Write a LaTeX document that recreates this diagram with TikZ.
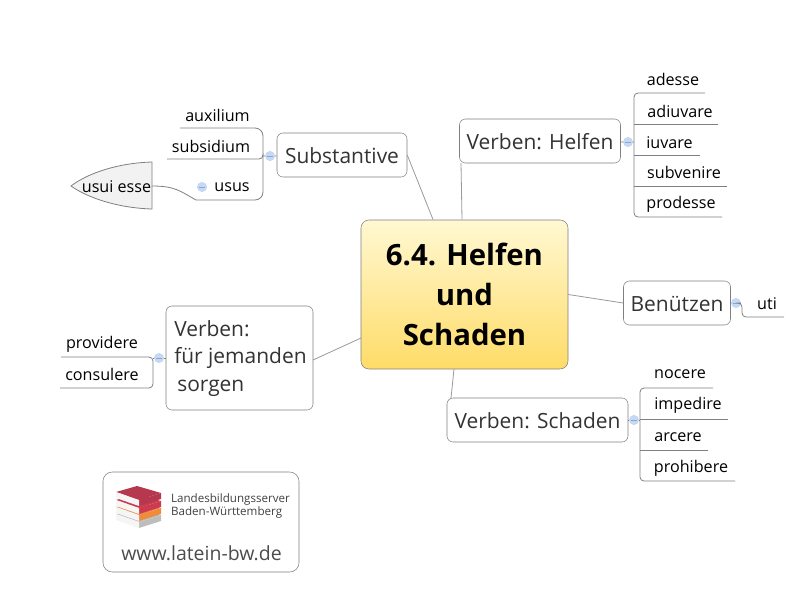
\documentclass[tikz,border=0pt]{standalone}
\usepackage{fontspec}
\usepackage{xcolor}
\setmainfont{Open Sans}
\usetikzlibrary{positioning,arrows.meta}

\definecolor{linegray}{HTML}{7F7F7F}
\definecolor{hubblue}{HTML}{C6D9F4}
\definecolor{hubdark}{HTML}{8CA6D2}
\definecolor{textdark}{HTML}{333333}
\definecolor{maintop}{HTML}{FFF8D2}
\definecolor{mainbottom}{HTML}{FFDC68}
\definecolor{bookone}{HTML}{B5384F}
\definecolor{booktwo}{HTML}{CC3A50}
\definecolor{bookthree}{HTML}{EF8B3C}
\definecolor{bookfour}{HTML}{BDBDBD}

\begin{document}
\begin{tikzpicture}[
		x=0.75pt,y=-0.75pt,
		topictext/.style={inner sep=0pt,text=textdark,text height=13.3pt,text depth=0.5pt,font=\fontsize{15.7}{21}\selectfont},
		topic/.style={topictext,draw=linegray,rounded corners=4.5pt,fill=white,minimum height=33pt},
		leaf/.style={inner sep=0pt,text=black,text height=9pt,text depth=3pt,font=\fontsize{12.1}{14}\selectfont},
		branch/.style={draw=linegray,rounded corners=3pt,line width=0.6pt},
		spoke/.style={draw=linegray!80,line width=0.6pt},
		hub/.style={circle,fill=hubblue,draw=hubblue!80!hubdark,inner sep=0pt,minimum size=7pt,line width=0.3pt,
			path picture={\draw[hubdark,line width=0.5pt] ([xshift=-2pt]path picture bounding box.center) -- ([xshift=2pt]path picture bounding box.center);}}
		]
		\useasboundingbox (0,0) rectangle (803,611);

		% centre
		\node[draw=linegray,rounded corners=6pt,top color=maintop,bottom color=mainbottom,minimum width=155.25pt,minimum height=111.75pt,align=center,inner sep=0pt,text depth=-1.5pt,font=\fontsize{22}{30}\selectfont\bfseries] (main) at (464.5,294.5) {6.4. Helfen\\und\\Schaden};

		% topics
		\node[topic,minimum width=97.5pt] (subst) at (342,155) {Substantive};
		\node[topic,minimum width=120.75pt] (helfen) at (540,141) {Verben: Helfen};
		\node[topic,minimum width=80.25pt] (benutzen) at (677,303) {Benützen};
		\node[topic,minimum width=135.75pt] (schaden) at (537.5,420) {Verben: Schaden};
		\node[topic,minimum width=110.25pt,minimum height=78pt] (sorgen) at (239.5,358) {};
		\node[topictext,anchor=west] (sorgenA) at (174,327.5) {Verben:};
		\node[topictext,anchor=west] (sorgenB) at (174,354.5) {für jemanden};
		\node[topictext,anchor=west] (sorgenC) at (177,382.5) {sorgen};

		\coordinate (substFoot) at (433,219.5);
		\coordinate (helfenFoot) at (461,163);
		\coordinate (helfenTop) at (462,219.5);
		\coordinate (schadenFoot) at (451,398);
		\coordinate (schadenTop) at (454,369);
		\coordinate (sorgenFoot) at (313,360);
		\coordinate (sorgenTop) at (361,338);
		\draw[spoke] (subst.east) -- (substFoot);
		\draw[spoke] (helfenFoot) -- (helfenTop);
		\draw[spoke] (main.east) -- (benutzen.west);
		\draw[spoke] (schadenFoot) -- (schadenTop);
		\draw[spoke] (sorgenFoot) -- (sorgenTop);

		% hubs
		\node[hub] (hubSubst) at (270,156) {};
		\node[hub] (hubUsus) at (202,187) {};
		\node[hub] (hubHelfen) at (628,142) {};
		\node[hub] (hubBenutzen) at (736,303) {};
		\node[hub] (hubSchaden) at (634,420) {};
		\node[hub] (hubSorgen) at (159,358) {};
		\coordinate (barSubst) at (263,156);
		\coordinate (barHelfen) at (634,142);
		\coordinate (barSchaden) at (640,420);
		\coordinate (barSorgen) at (153,358);
		\coordinate (barBenutzen) at (742,303);

		% Substantive
		\node[leaf] (auxilium) at (217.5,117) {auxilium};
		\node[leaf] (subsidium) at (211,148) {subsidium};
		\node[leaf] (usus) at (232,187) {usus};
		\coordinate (auxiliumEnd) at (180,128);
		\coordinate (subsidiumEnd) at (167,159);
		\coordinate (ususEnd) at (196,200);
		\draw[branch,rounded corners=6pt] (auxiliumEnd) -- (auxiliumEnd -| barSubst) -- (ususEnd -| barSubst) -- (ususEnd);
		\draw[branch] (subsidiumEnd) -- (subsidiumEnd -| barSubst) -- (barSubst);
		\draw[branch] (barSubst) -- (hubSubst) -- (subst);

		% usui esse
		\path[fill=black!5,draw=linegray,line width=0.6pt] (152,162) coordinate (esseTop) .. controls (118,163) and (88,173) .. (71,186) .. controls (88,198) and (118,208) .. (152,209) coordinate (esseBottom) -- cycle;
		\node[leaf] (esse) at (116.5,188) {usui esse};
		\coordinate (esseEnd) at (152,186);
		\draw[branch] (esseEnd) .. controls (175,186) and (180,191) .. (ususEnd);

		% Helfen
		\node[leaf] (adesse) at (673,81) {adesse};
		\node[leaf] (adiuvare) at (680,113) {adiuvare};
		\node[leaf] (iuvare) at (669.5,144) {iuvare};
		\node[leaf] (subvenire) at (684,174) {subvenire};
		\node[leaf] (prodesse) at (681,204) {prodesse};
		\coordinate (adesseEnd) at (705,93);
		\coordinate (adiuvareEnd) at (718,124);
		\coordinate (iuvareEnd) at (700,155);
		\coordinate (subvenireEnd) at (727,186);
		\coordinate (prodesseEnd) at (722,217);
		\draw[branch] (adesseEnd) -- (adesseEnd -| barHelfen) -- (prodesseEnd -| barHelfen) -- (prodesseEnd);
		\draw[branch] (adiuvareEnd) -- (adiuvareEnd -| barHelfen);
		\draw[branch] (iuvareEnd) -- (iuvareEnd -| barHelfen);
		\draw[branch] (subvenireEnd) -- (subvenireEnd -| barHelfen);
		\draw[branch] (helfen) -- (hubHelfen) -- (barHelfen);

		% Benuetzen
		\node[leaf] (uti) at (767,305) {uti};
		\coordinate (utiEnd) at (784,317);
		\draw[branch] (benutzen) -- (hubBenutzen) -- (barBenutzen) -- (barBenutzen |- utiEnd) -- (utiEnd);

		% Schaden
		\node[leaf] (nocere) at (680,374) {nocere};
		\node[leaf] (impedire) at (688,405) {impedire};
		\node[leaf] (arcere) at (678,437) {arcere};
		\node[leaf] (prohibere) at (691,468) {prohibere};
		\coordinate (nocereEnd) at (713,388);
		\coordinate (impedireEnd) at (728,419);
		\coordinate (arcereEnd) at (708,450);
		\coordinate (prohibereEnd) at (735,481);
		\draw[branch] (nocereEnd) -- (nocereEnd -| barSchaden) -- (prohibereEnd -| barSchaden) -- (prohibereEnd);
		\draw[branch] (impedireEnd) -- (impedireEnd -| barSchaden);
		\draw[branch] (arcereEnd) -- (arcereEnd -| barSchaden);
		\draw[branch] (schaden) -- (hubSchaden) -- (barSchaden);

		% fuer jemanden sorgen
		\node[leaf] (providere) at (102,344) {providere};
		\node[leaf] (consulere) at (102,376) {consulere};
		\coordinate (providereEnd) at (61,357);
		\coordinate (consulereEnd) at (60,388);
		\draw[branch] (providereEnd) -- (providereEnd -| barSorgen) -- (consulereEnd -| barSorgen) -- (consulereEnd);
		\draw[branch] (sorgen) -- (hubSorgen) -- (barSorgen);

		% logo
		\node[draw=linegray,rounded corners=7pt,minimum width=147pt,minimum height=75pt] (logo) at (201,522) {};
		\node[inner sep=0pt,text=black!70,font=\fontsize{14.6}{18}\selectfont] (url) at (201.5,553) {www.latein-bw.de};
		\node[inner sep=0pt,text=black!75,align=left,font=\fontsize{8.7}{9.75}\selectfont] (server) at (230.5,506) {Landesbildungsserver\\Baden-Württemberg};
		\foreach \by/\bcol in {22/bookfour,15/bookthree,8/booktwo,0/bookone}{
			\fill[\bcol] (116,492+\by) -- (137,486+\by) -- (161,493+\by) -- (139,500+\by) -- cycle;
			\fill[\bcol] (139,500+\by) -- (161,493+\by) -- (161,499+\by) -- (139,506+\by) -- cycle;
			\fill[black!4] (116,492+\by) -- (139,500+\by) -- (139,506+\by) -- (116,498+\by) -- cycle;
		}
	\end{tikzpicture}
\end{document}
